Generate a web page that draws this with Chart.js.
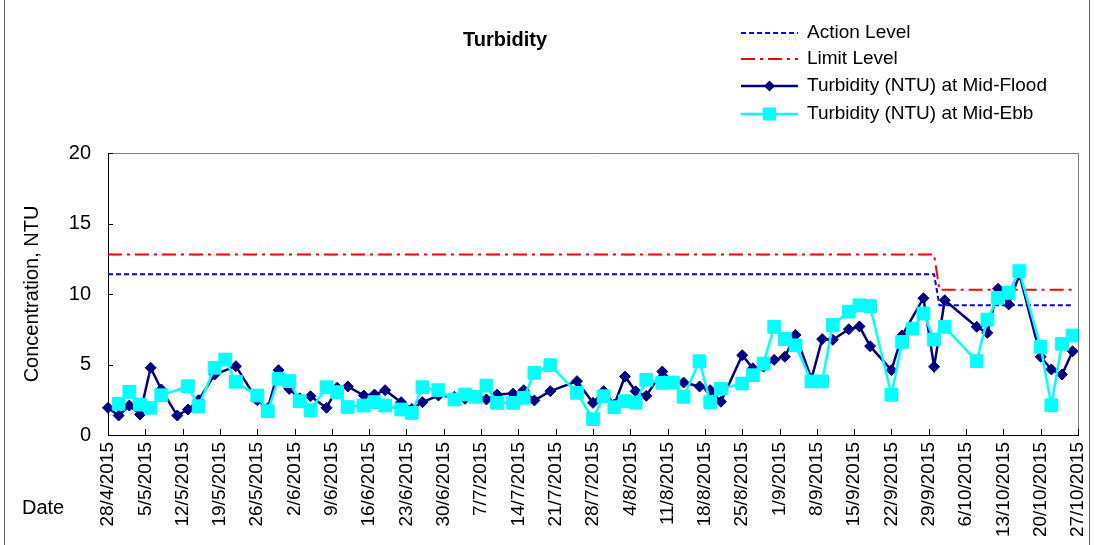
<!DOCTYPE html>
<html>
<head>
<meta charset="utf-8">
<title>Turbidity</title>
<script src="https://cdn.jsdelivr.net/npm/chart.js@4.4.1/dist/chart.umd.min.js"></script>
<style>
  body { margin: 0; background: #fff; }
  canvas { display: block; }
</style>
</head>
<body>
<canvas id="turbidityChart" width="1094" height="545"></canvas>
<script>
// sampling dates (both tides sampled on same days)
const sampleDates = [
  '2015-04-28', '2015-04-30', '2015-05-02', '2015-05-04', '2015-05-06', '2015-05-08',
  '2015-05-11', '2015-05-13', '2015-05-15', '2015-05-18', '2015-05-20', '2015-05-22',
  '2015-05-26', '2015-05-28', '2015-05-30', '2015-06-01', '2015-06-03', '2015-06-05',
  '2015-06-08', '2015-06-10', '2015-06-12', '2015-06-15', '2015-06-17', '2015-06-19',
  '2015-06-22', '2015-06-24', '2015-06-26', '2015-06-29', '2015-07-02', '2015-07-04',
  '2015-07-06', '2015-07-08', '2015-07-10', '2015-07-13', '2015-07-15', '2015-07-17',
  '2015-07-20', '2015-07-25', '2015-07-28', '2015-07-30', '2015-08-01', '2015-08-03',
  '2015-08-05', '2015-08-07', '2015-08-10', '2015-08-12', '2015-08-14', '2015-08-17',
  '2015-08-19', '2015-08-21', '2015-08-25', '2015-08-27', '2015-08-29', '2015-08-31',
  '2015-09-02', '2015-09-04', '2015-09-07', '2015-09-09', '2015-09-11', '2015-09-14',
  '2015-09-16', '2015-09-18', '2015-09-22', '2015-09-24', '2015-09-26', '2015-09-28',
  '2015-09-30', '2015-10-02', '2015-10-08', '2015-10-10', '2015-10-12', '2015-10-14',
  '2015-10-16', '2015-10-20', '2015-10-22', '2015-10-24', '2015-10-26'
];

const midFlood = [
  1.93, 1.38, 2.09, 1.45, 4.77, 3.23,
  1.38, 1.81, 2.47, 4.29, null, 4.88,
  2.47, 1.9, 4.6, 3.27, 2.6, 2.75,
  1.93, 3.35, 3.44, 2.8, 2.87, 3.18,
  2.33, 1.85, 2.33, 2.8, 2.71, 2.57,
  2.8, 2.52, 2.87, 2.94, 3.18, 2.45,
  3.11, 3.82, 2.28, 3.11, 2.16, 4.15,
  3.1, 2.78, 4.5, 3.8, 3.72, 3.44,
  3.17, 2.36, 5.66, 4.73, 4.85, 5.33,
  5.55, 7.1, 4.0, 6.8, 6.75, 7.5,
  7.7, 6.3, 4.6, 7.06, null, 9.7,
  4.84, 9.56, 7.67, 7.25, 10.37, 9.26,
  11.38, 5.55, 4.65, 4.29, 5.94
];

const midEbb = [
  null, 2.21, 3.06, 2.16, 1.93, 2.82,
  null, 3.46, 2.04, 4.77, 5.35, 3.77,
  2.8, 1.69, 3.99, 3.82, 2.4, 1.76,
  3.39, 3.04, 1.98, 2.09, 2.33, 2.09,
  1.81, 1.57, 3.39, 3.18, 2.52, 2.87,
  2.71, 3.51, 2.28, 2.28, 2.64, 4.41,
  4.95, 2.99, 1.13, 2.75, 1.97, 2.4,
  2.3, 3.92, 3.7, 3.72, 2.71, 5.23,
  2.33, 3.28, 3.65, 4.24, 5.06, 7.67,
  6.8, 6.36, 3.8, 3.8, 7.8, 8.75,
  9.2, 9.14, 2.85, 6.6, 7.54, 8.62,
  6.77, 7.67, 5.24, 8.19, 9.73, 10.08,
  11.62, 6.25, 2.11, 6.47, 7.06
];

const levelDates = ['2015-04-28', '2015-09-30', '2015-10-01', '2015-10-26'];
const actionLevel = [11.4, 11.4, 9.2, 9.2];
const limitLevel = [12.8, 12.8, 10.3, 10.3];

const tickLabels = [
  '28/4/2015', '5/5/2015', '12/5/2015', '19/5/2015', '26/5/2015', '2/6/2015',
  '9/6/2015', '16/6/2015', '23/6/2015', '30/6/2015', '7/7/2015', '14/7/2015',
  '21/7/2015', '28/7/2015', '4/8/2015', '11/8/2015', '18/8/2015', '25/8/2015',
  '1/9/2015', '8/9/2015', '15/9/2015', '22/9/2015', '29/9/2015', '6/10/2015',
  '13/10/2015', '20/10/2015', '27/10/2015'
];

const FONT = "'Liberation Sans', Arial, sans-serif";
const startTime = Date.parse(sampleDates[0]);

function toDay(d) {
  return (Date.parse(d) - startTime) / 86400000;
}

function toPoints(dates, values) {
  return dates.map(function (d, i) {
    return { x: toDay(d), y: values[i] };
  });
}

const datasets = [
  {
    label: 'Action Level',
    data: toPoints(levelDates, actionLevel),
    borderColor: '#0000ff',
    borderWidth: 2,
    borderDash: [5, 3],
    pointRadius: 0,
    order: 4
  },
  {
    label: 'Limit Level',
    data: toPoints(levelDates, limitLevel),
    borderColor: '#ff0000',
    borderWidth: 2,
    borderDash: [14, 5, 3, 5],
    pointRadius: 0,
    order: 3
  },
  {
    label: 'Turbidity (NTU) at Mid-Flood',
    data: toPoints(sampleDates, midFlood),
    borderColor: '#000080',
    backgroundColor: '#000080',
    borderWidth: 2.5,
    pointStyle: 'rectRot',
    pointRadius: 5.5,
    pointBorderWidth: 1,
    spanGaps: true,
    order: 2
  },
  {
    label: 'Turbidity (NTU) at Mid-Ebb',
    data: toPoints(sampleDates, midEbb),
    borderColor: '#00ffff',
    backgroundColor: '#00ffff',
    borderWidth: 2.5,
    pointStyle: 'rect',
    pointRadius: 9,
    pointBorderWidth: 1,
    spanGaps: true,
    order: 1
  }
];

// legend, title, frame and inner tick marks
const decorations = {
  id: 'decorations',
  afterDraw(chart) {
    const ctx = chart.ctx;
    const area = chart.chartArea;
    const xs = chart.scales.x;
    const ys = chart.scales.y;
    ctx.save();

    // plot border (top/right)
    ctx.strokeStyle = '#808080';
    ctx.lineWidth = 1;
    ctx.beginPath();
    ctx.moveTo(area.left, Math.round(area.top) + 0.5);
    ctx.lineTo(Math.round(area.right) + 0.5, Math.round(area.top) + 0.5);
    ctx.lineTo(Math.round(area.right) + 0.5, area.bottom);
    ctx.stroke();

    // inward tick marks
    ctx.strokeStyle = '#000';
    ctx.beginPath();
    ys.ticks.forEach(function (t) {
      const y = Math.round(ys.getPixelForValue(t.value)) + 0.5;
      ctx.moveTo(area.left, y);
      ctx.lineTo(area.left + 5, y);
    });
    xs.ticks.forEach(function (t) {
      const x = Math.round(xs.getPixelForValue(t.value)) + 0.5;
      ctx.moveTo(x, area.bottom);
      ctx.lineTo(x, area.bottom - 6);
    });
    ctx.stroke();

    // outer frame
    ctx.strokeStyle = '#606060';
    ctx.beginPath();
    ctx.moveTo(4.5, 0);
    ctx.lineTo(4.5, 545);
    ctx.moveTo(1089.5, 0);
    ctx.lineTo(1089.5, 545);
    ctx.stroke();

    // title
    ctx.fillStyle = '#000';
    ctx.font = 'bold 20px ' + FONT;
    ctx.textAlign = 'center';
    ctx.textBaseline = 'middle';
    ctx.fillText('Turbidity', 505, 40);

    // "Date" label
    ctx.font = '20px ' + FONT;
    ctx.textAlign = 'left';
    ctx.fillText('Date', 22, 508);

    // legend
    const rowY = [33, 59, 86, 114];
    ctx.font = '19px ' + FONT;
    chart.data.datasets.forEach(function (ds, i) {
      const y = rowY[i];
      ctx.strokeStyle = ds.borderColor;
      ctx.lineWidth = ds.borderWidth;
      ctx.setLineDash(ds.borderDash || []);
      ctx.beginPath();
      ctx.moveTo(741, y);
      ctx.lineTo(798, y);
      ctx.stroke();
      ctx.setLineDash([]);
      ctx.fillStyle = ds.borderColor;
      if (ds.pointStyle === 'rectRot') {
        ctx.beginPath();
        ctx.moveTo(769.5, y - 5.5);
        ctx.lineTo(775, y);
        ctx.lineTo(769.5, y + 5.5);
        ctx.lineTo(764, y);
        ctx.closePath();
        ctx.fill();
      } else if (ds.pointStyle === 'rect') {
        ctx.fillRect(763, y - 6.5, 13, 13);
      }
      ctx.fillStyle = '#000';
      ctx.fillText(ds.label, 807, y);
    });

    ctx.restore();
  }
};

const ctx = document.getElementById('turbidityChart').getContext('2d');
const turbidityChart = new Chart(ctx, {
  type: 'line',
  data: { datasets: datasets },
  options: {
    responsive: false,
    animation: false,
    devicePixelRatio: 1,
    layout: { padding: { top: 153, right: 16, left: 12, bottom: 0 } },
    elements: { line: { tension: 0 } },
    datasets: { line: { clip: false } },
    plugins: {
      legend: { display: false },
      tooltip: { enabled: false },
      title: { display: false }
    },
    scales: {
      x: {
        type: 'linear',
        min: 0,
        max: 182,
        grid: { display: true, drawOnChartArea: false, drawTicks: false },
        border: { display: true, color: '#000', width: 1 },
        ticks: {
          stepSize: 7,
          autoSkip: false,
          minRotation: 90,
          maxRotation: 90,
          padding: 7,
          color: '#000',
          font: { family: FONT, size: 19 },
          callback: function (value) {
            return tickLabels[Math.round(value / 7)];
          }
        },
        afterFit: function (scale) {
          scale.height = 110;
          scale.paddingLeft = 0;
          scale.paddingRight = 0;
        }
      },
      y: {
        min: 0,
        max: 20,
        grid: { display: true, drawOnChartArea: false, drawTicks: false },
        border: { display: true, color: '#000', width: 1 },
        ticks: {
          stepSize: 5,
          padding: 17,
          color: '#000',
          font: { family: FONT, size: 20 }
        },
        title: {
          display: true,
          text: 'Concentration, NTU',
          color: '#000',
          font: { family: FONT, size: 20 },
          padding: { top: 8, bottom: 0 }
        },
        afterFit: function (scale) {
          scale.width = 96;
          scale.paddingTop = 0;
          scale.paddingBottom = 0;
        }
      }
    }
  },
  plugins: [decorations]
});
</script>
</body>
</html>
